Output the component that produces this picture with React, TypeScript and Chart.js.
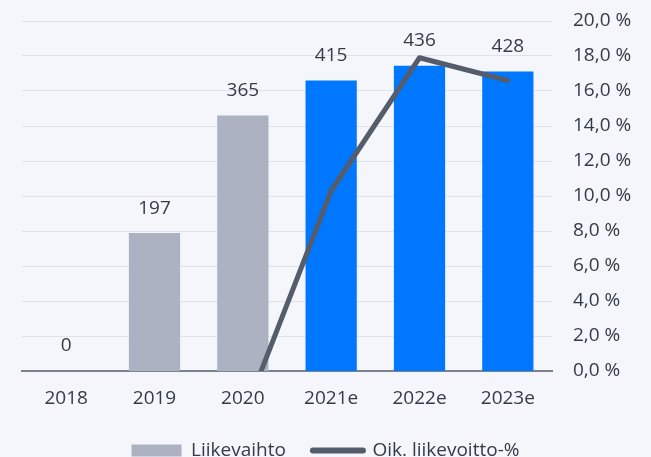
import React, { useEffect, useRef } from "react";
import { Chart, registerables } from "chart.js";

Chart.register(...registerables);

const categories = ["2018", "2019", "2020", "2021e", "2022e", "2023e"];
const revenue = [0, 197, 365, 415, 436, 428];
const adjustedMargin: (number | null)[] = [null, null, -2.7, 10.3, 17.9, 16.6];
const actualColor = "#adb2c3";
const estimateColor = "#0077ff";
const barColors = [actualColor, actualColor, actualColor, estimateColor, estimateColor, estimateColor];
const lineColor = "#555c6b";
const revenueLabel = "Liikevaihto";
const marginLabel = "Oik. liikevoitto-%";

const FONT = "'Open Sans', sans-serif";
const FS = 19;
const TEXT = "#343b47";
const BG = "#f5f6fb";

export default function App() {
  const ref = useRef<HTMLCanvasElement | null>(null);

  useEffect(() => {
    document.body.style.margin = "0";
    document.body.style.background = BG;
    const canvas = ref.current;
    if (!canvas) return;

    const valueLabels = {
      id: "valueLabels",
      afterDatasetsDraw(chart: any) {
        const ctx = chart.ctx;
        const meta = chart.getDatasetMeta(0);
        ctx.save();
        ctx.font = `${FS}px ${FONT}`;
        ctx.fillStyle = TEXT;
        ctx.textAlign = "center";
        ctx.textBaseline = "middle";
        meta.data.forEach((el: any, i: number) => {
          ctx.fillText(String(revenue[i]), el.x, el.y - 25);
        });
        ctx.restore();
      },
    };

    const chart = new Chart(canvas, {
      type: "bar",
      data: {
        labels: categories,
        datasets: [
          {
            type: "bar",
            label: revenueLabel,
            data: revenue,
            backgroundColor: barColors,
            barPercentage: 0.58,
            categoryPercentage: 1,
            yAxisID: "y1",
            order: 2,
          },
          {
            type: "line",
            label: marginLabel,
            data: adjustedMargin,
            borderColor: lineColor,
            backgroundColor: lineColor,
            borderWidth: 5,
            pointRadius: 0,
            tension: 0,
            borderJoinStyle: "round",
            borderCapStyle: "round",
            yAxisID: "y",
            order: 1,
          } as any,
        ],
      },
      options: {
        responsive: false,
        animation: false,
        layout: { padding: { top: 21, left: 0, right: 0, bottom: 0 } },
        plugins: {
          tooltip: { enabled: false },
          legend: {
            position: "bottom",
            labels: {
              usePointStyle: true,
              pointStyleWidth: 50,
              boxHeight: 12,
              padding: 27,
              color: TEXT,
              font: { family: FONT, size: FS },
              generateLabels: () => [
                {
                  text: revenueLabel,
                  fillStyle: actualColor,
                  strokeStyle: actualColor,
                  lineWidth: 0,
                  pointStyle: "rect",
                  datasetIndex: 0,
                  hidden: false,
                  fontColor: TEXT,
                } as any,
                {
                  text: marginLabel,
                  fillStyle: lineColor,
                  strokeStyle: lineColor,
                  lineWidth: 6,
                  lineCap: "round",
                  pointStyle: "line",
                  datasetIndex: 1,
                  hidden: false,
                  fontColor: TEXT,
                } as any,
              ],
            },
          },
        },
        scales: {
          x: {
            grid: { display: false, drawTicks: false },
            border: { display: true, color: "#7b838f", width: 2 },
            ticks: { color: TEXT, font: { family: FONT, size: FS }, padding: 16, maxRotation: 0 },
            afterFit: (scale: any) => {
              scale.height = 43;
            },
          },
          y1: {
            position: "left",
            min: 0,
            max: 500,
            grid: { display: false, drawTicks: false },
            border: { display: false },
            ticks: { display: false },
            afterFit: (scale: any) => {
              scale.width = 22;
            },
          },
          y: {
            position: "right",
            min: 0,
            max: 20,
            grid: {
              drawTicks: true,
              tickLength: 21,
              tickColor: "rgba(0,0,0,0)",
              color: (c: any) => (c.tick && c.tick.value === 0 ? "rgba(0,0,0,0)" : "#e0e2e9"),
              lineWidth: 1,
            },
            border: { display: false },
            ticks: {
              stepSize: 2,
              padding: 0,
              color: TEXT,
              font: { family: FONT, size: FS },
              callback: (v: any) => `${Number(v).toFixed(1).replace(".", ",")} %`,
            },
            afterFit: (scale: any) => {
              scale.width = 99;
            },
          },
        },
      },
      plugins: [valueLabels],
    });

    return () => chart.destroy();
  }, []);

  return (
    <div style={{ width: 651, height: 457, overflow: "hidden", background: BG }}>
      <canvas ref={ref} width={651} height={470} style={{ display: "block" }} />
    </div>
  );
}
